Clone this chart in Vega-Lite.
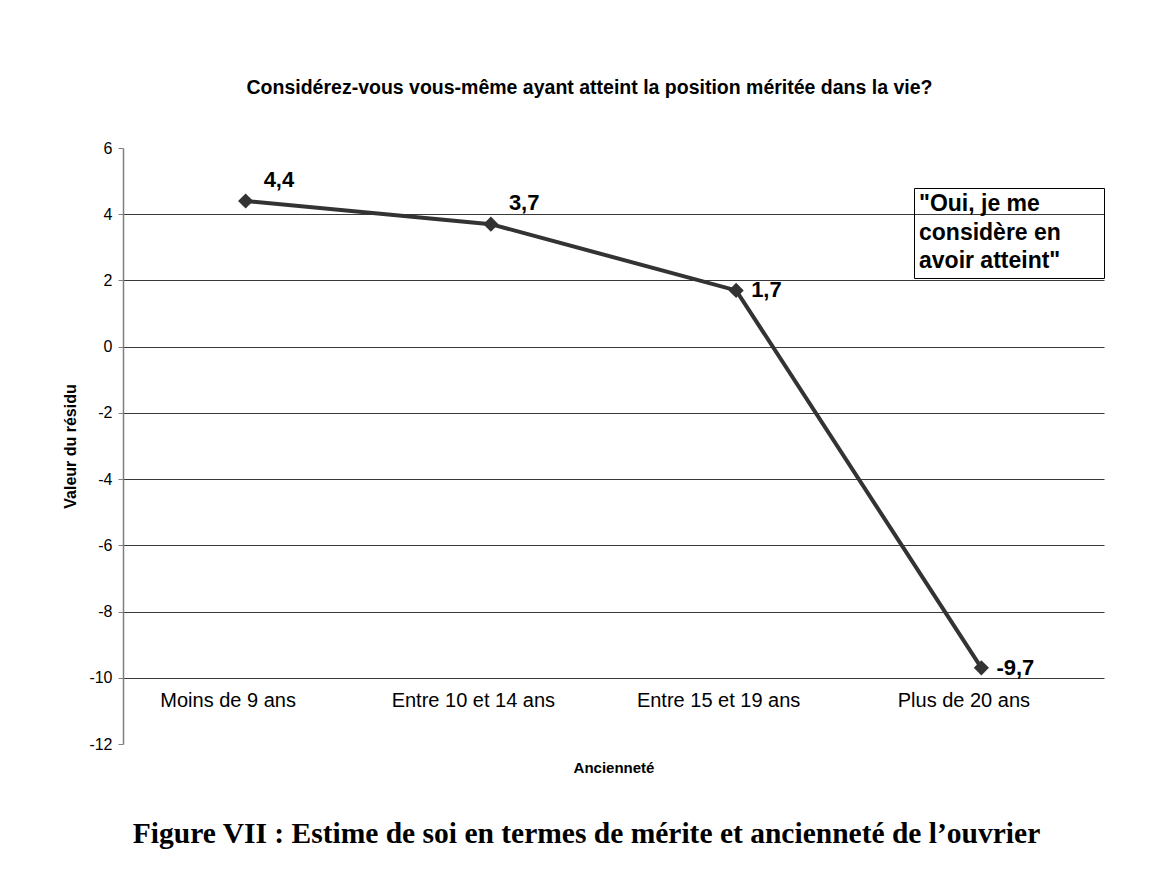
{
  "$schema": "https://vega.github.io/schema/vega-lite/v6.json",
  "width": 981,
  "height": 596,
  "autosize": {"type": "none"},
  "padding": {"left": 123, "top": 148, "right": 71, "bottom": 134},
  "background": "white",
  "title": {
    "text": "Figure VII : Estime de soi en termes de mérite et ancienneté de l’ouvrier",
    "orient": "bottom",
    "font": "Liberation Serif",
    "fontSize": 29.5,
    "fontWeight": "bold",
    "color": "black",
    "anchor": "middle",
    "dx": -27,
    "offset": 45
  },
  "data": {
    "values": [
      {"anc": "Moins de 9 ans", "val": 4.4},
      {"anc": "Entre 10 et 14 ans", "val": 3.7},
      {"anc": "Entre 15 et 19 ans", "val": 1.7},
      {"anc": "Plus de 20 ans", "val": -9.7}
    ]
  },
  "layer": [
    {
      "mark": {"type": "line", "strokeWidth": 4},
      "encoding": {
        "x": {
          "field": "anc", "type": "nominal", "sort": null,
          "scale": {"type": "point", "padding": 0.5},
          "axis": {
            "orient": "bottom", "title": "Ancienneté", "domain": false, "ticks": false, "tickSize": 0,
            "grid": false, "labelPadding": -54, "labelOffset": -18, "labelAngle": 0, "labelFontSize": 20,
            "labelColor": "black", "labelBaseline": "top", "labelFont": "Liberation Sans",
            "titleFont": "Liberation Sans", "titleFontSize": 15, "titleFontWeight": "bold", "titleColor": "black",
            "titleBaseline": "alphabetic", "titleY": 28
          }
        },
        "y": {
          "field": "val", "type": "quantitative",
          "scale": {"domain": [-12, 6], "nice": false, "zero": false},
          "axis": {
            "values": [-12, -10, -8, -6, -4, -2, 0, 2, 4, 6],
            "format": "d",
            "title": "Valeur du résidu",
            "grid": true, "gridColor": "#3a3a3a", "gridWidth": 1,
            "gridOpacity": {"condition": {"test": "datum.value === 6 || datum.value === -12", "value": 0}, "value": 1},
            "domainColor": "#808080", "domainWidth": 1.5, "tickColor": "#808080", "tickSize": 5,
            "labelPadding": 6, "labelFontSize": 16, "labelColor": "black", "labelFont": "Liberation Sans",
            "titleFont": "Liberation Sans", "titleFontSize": 16, "titleFontWeight": "bold", "titleColor": "black",
            "titleX": -53, "titleY": 298, "titleAngle": 270, "titleBaseline": "middle", "titleAlign": "center"
          }
        },
        "color": {
          "datum": "Oui, je me considère en avoir atteint", "type": "nominal",
          "scale": {"range": ["#333333"]},
          "legend": {
            "orient": "none", "legendX": 791, "legendY": 40, "title": null,
            "strokeColor": "black", "padding": 5,
            "symbolType": "M-1,0L1,0", "symbolSize": 32400, "symbolOpacity": 0, "symbolStrokeWidth": 0,
            "symbolFillColor": "transparent", "symbolStrokeColor": "transparent",
            "labelOffset": -180, "labelBaseline": "top",
            "labelFont": "Liberation Sans", "labelFontSize": 23, "labelFontWeight": "bold", "labelColor": "black",
            "labelLimit": 500,
            "labelExpr": "['\"Oui, je me', 'considère en', 'avoir atteint\"']",
            "encode": {
              "labels": {"update": {"lineHeight": {"value": 28.5}, "y": {"value": 0}}},
              "symbols": {"update": {"y": {"value": 40}}}
            }
          }
        }
      }
    },
    {
      "mark": {"type": "point", "shape": "diamond", "filled": true, "size": 230, "color": "#333333", "opacity": 1},
      "encoding": {
        "x": {"field": "anc", "type": "nominal", "sort": null, "axis": null},
        "y": {"field": "val", "type": "quantitative"}
      }
    },
    {
      "transform": [{"filter": "datum.val > 3"}],
      "mark": {"type": "text", "align": "left", "baseline": "alphabetic", "dx": 18, "dy": -14,
               "font": "Liberation Sans", "fontSize": 22, "fontWeight": "bold", "color": "black"},
      "encoding": {
        "x": {
          "field": "anc", "type": "nominal", "sort": null,
          "axis": {
            "orient": "top", "labels": false, "ticks": false, "domain": false, "grid": false,
            "title": "Considérez-vous vous-même ayant atteint la position méritée dans la vie?",
            "titleFont": "Liberation Sans", "titleFontSize": 19.5, "titleFontWeight": "bold", "titleColor": "black",
            "titleX": 466, "titleY": -55, "titleBaseline": "alphabetic", "titleAlign": "center"
          }
        },
        "y": {"field": "val", "type": "quantitative"},
        "text": {"field": "val", "type": "quantitative", "format": ".1f"}
      }
    },
    {
      "transform": [{"filter": "datum.val < 3"}],
      "mark": {"type": "text", "align": "left", "baseline": "alphabetic", "dx": 15, "dy": 7,
               "font": "Liberation Sans", "fontSize": 22, "fontWeight": "bold", "color": "black"},
      "encoding": {
        "x": {"field": "anc", "type": "nominal", "sort": null, "axis": null},
        "y": {"field": "val", "type": "quantitative"},
        "text": {"field": "val", "type": "quantitative", "format": ".1f"}
      }
    }
  ],
  "resolve": {"axis": {"x": "independent"}},
  "config": {
    "view": {"stroke": null},
    "font": "Liberation Sans",
    "locale": {
      "number": {"decimal": ",", "thousands": " ", "grouping": [3], "currency": ["", " €"], "minus": "-"}
    }
  }
}
